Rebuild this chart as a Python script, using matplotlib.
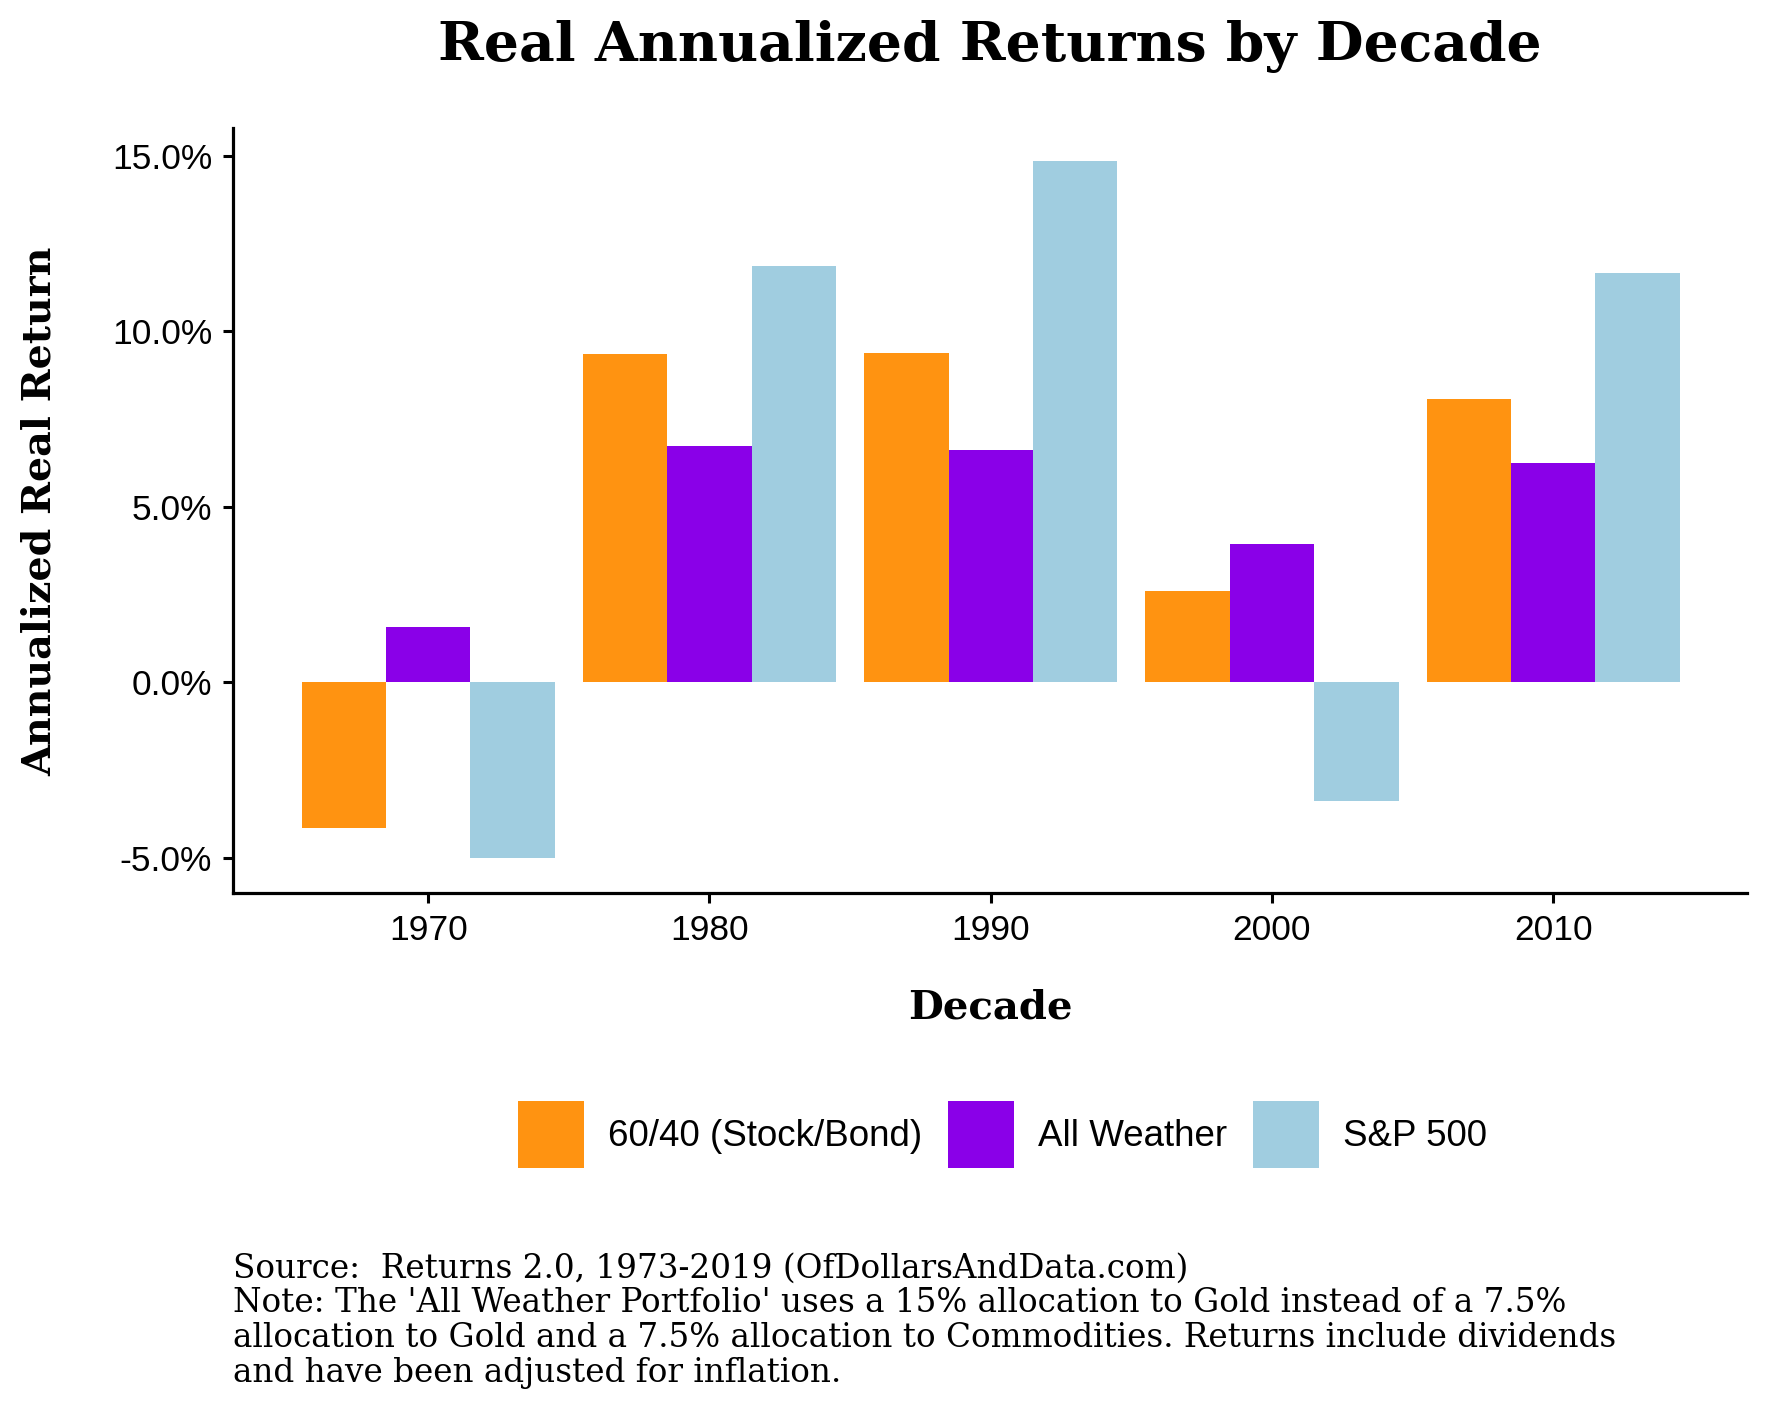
import numpy as np
import matplotlib as mpl
mpl.use('Agg')
import matplotlib.pyplot as plt
from matplotlib.ticker import FuncFormatter

# data (annualized real return, %)
decades = ['1970', '1980', '1990', '2000', '2010']
series = ['60/40 (Stock/Bond)', 'All Weather', 'S&P 500']
ret_6040 = [-4.16, 9.35, 9.39, 2.61, 8.06]
ret_allw = [1.58, 6.74, 6.61, 3.94, 6.26]
ret_spx = [-5.0, 11.87, 14.87, -3.39, 11.65]
colors = ['#FF9311', '#8A00E8', '#A0CDE0']

serif = 'DejaVu Serif'
sans = 'Liberation Sans'

fig = plt.figure(figsize=(17.71, 14.17), dpi=100)
ax = fig.add_axes([0.1316, 0.370, 0.855, 0.540])

x = np.arange(len(decades))
w = 0.3
for i, (vals, lab) in enumerate(zip([ret_6040, ret_allw, ret_spx], series)):
    ax.bar(x + (i - 1) * w, vals, width=w, color=colors[i], label=lab, linewidth=0)

ax.set_xlim(-0.694, 4.69)
ax.set_ylim(-6.0, 15.81)
ax.set_xticks(x)
ax.set_xticklabels(decades, fontsize=25.5, family=sans)
ax.set_yticks([-5, 0, 5, 10, 15])
ax.yaxis.set_major_formatter(FuncFormatter(lambda v, p: '%.1f%%' % v))
for t in ax.get_yticklabels():
    t.set_family(sans)
    t.set_fontsize(25.5)
ax.tick_params(length=7, width=2.2, color='black', pad=8)

for s in ['top', 'right']:
    ax.spines[s].set_visible(False)
for s in ['left', 'bottom']:
    ax.spines[s].set_linewidth(2.3)

fig.text(0.559, 0.967, 'Real Annualized Returns by Decade', ha='center', va='center',
         family=serif, fontweight='bold', fontsize=39.7)
fig.text(0.0225, 0.639, 'Annualized Real Return', ha='center', va='center', rotation=90,
         family=serif, fontweight='bold', fontsize=28.5)
fig.text(0.559, 0.289, 'Decade', ha='center', va='center',
         family=serif, fontweight='bold', fontsize=29)

leg = fig.legend(loc='center', bbox_to_anchor=(0.566, 0.1995), ncol=3, frameon=False,
                 prop={'family': sans, 'size': 26.5}, handlelength=1.8, handleheight=2.4,
                 handletextpad=0.65, columnspacing=0.7)

caption = ("Source:  Returns 2.0, 1973-2019 (OfDollarsAndData.com)\n"
           "Note: The 'All Weather Portfolio' uses a 15% allocation to Gold instead of a 7.5%\n"
           "allocation to Gold and a 7.5% allocation to Commodities. Returns include dividends\n"
           "and have been adjusted for inflation.")
fig.text(0.1316, 0.1160, caption, ha='left', va='top', family=serif, fontsize=23.5,
         linespacing=1.11)

fig.savefig('out.png', dpi=100, facecolor='white')
